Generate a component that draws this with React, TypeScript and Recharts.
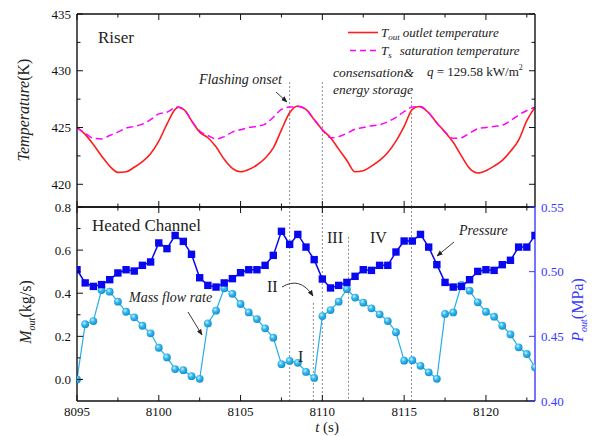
import { ComposedChart, Line, XAxis, YAxis, ReferenceLine } from 'recharts'

// ---- riser outlet temperature (K) ----
const OUT_T = [
  8095, 8095.5, 8096, 8096.5, 8097, 8097.5, 8098, 8098.5, 8099, 8099.5, 8100, 8100.5, 8101, 8101.2,
  8101.6, 8102, 8102.5, 8103, 8103.5, 8104, 8104.5, 8105, 8105.5, 8106, 8106.5, 8107, 8107.5, 8108,
  8108.5, 8109, 8109.5, 8110, 8110.5, 8111, 8111.5, 8112, 8112.5, 8113, 8113.5, 8114, 8114.5, 8115,
  8115.5, 8115.9, 8116.5, 8117, 8117.5, 8118, 8118.5, 8119, 8119.5, 8120, 8120.5, 8121, 8121.5, 8122,
  8122.5, 8123,
]
const OUT_TEMP = [
  425.0, 424.4, 423.5, 422.5, 421.6, 421.05, 421.1, 421.5, 422.0, 422.7, 423.8, 425.3, 426.6, 426.8,
  426.5, 425.6, 424.6, 424.1, 423.3, 422.2, 421.4, 421.1, 421.3, 421.7, 422.3, 423.2, 424.8, 426.3,
  426.9, 426.6, 425.7, 424.8, 424.1, 423.1, 422.1, 421.1, 421.2, 421.6, 422.1, 422.8, 423.8, 425.1,
  426.6, 426.85, 426.3, 425.4, 424.6, 423.7, 422.5, 421.4, 421.0, 421.2, 421.6, 422.1, 422.9, 423.9,
  425.6, 426.8,
]

// ---- saturation temperature (K) ----
const SAT_T = [
  8095, 8095.5, 8096, 8096.5, 8097, 8097.5, 8098, 8098.5, 8099, 8099.5, 8100, 8100.5, 8101.1,
  8101.6, 8102, 8102.5, 8103, 8103.5, 8104, 8104.5, 8105, 8105.5, 8106, 8106.5, 8107, 8107.5, 8108,
  8108.5, 8109, 8109.5, 8110, 8110.5, 8111, 8111.5, 8112, 8112.5, 8113, 8113.5, 8114, 8114.5, 8115,
  8115.5, 8116, 8116.5, 8117, 8117.5, 8118, 8118.5, 8119, 8119.5, 8120, 8120.5, 8121, 8121.5, 8122,
  8122.5, 8123,
]
const SAT_TEMP = [
  425.0, 424.5, 424.05, 424.0, 424.3, 424.6, 424.95, 425.1, 425.3, 425.7, 426.2, 426.35, 426.8,
  426.5, 425.6, 424.7, 424.3, 424.0, 424.2, 424.6, 424.8, 425.0, 425.1, 425.3, 425.9, 426.6, 426.8,
  426.85, 426.6, 425.7, 424.8, 424.1, 424.2, 424.5, 424.85, 425.0, 425.15, 425.25, 425.5, 425.9, 426.4,
  426.8, 426.85, 426.3, 425.4, 424.6, 424.05, 424.1, 424.5, 424.9, 425.0, 425.1, 425.2, 425.6, 426.1,
  426.5, 426.8,
]

// ---- heated channel, sampled every 0.5 s ----
const CH_T = [
  8095, 8095.5, 8096, 8096.5, 8097, 8097.5, 8098, 8098.5, 8099, 8099.5, 8100, 8100.5, 8101, 8101.5,
  8102, 8102.5, 8103, 8103.5, 8104, 8104.5, 8105, 8105.5, 8106, 8106.5, 8107, 8107.5, 8108, 8108.5,
  8109, 8109.5, 8110, 8110.5, 8111, 8111.5, 8112, 8112.5, 8113, 8113.5, 8114, 8114.5, 8115, 8115.5,
  8116, 8116.5, 8117, 8117.5, 8118, 8118.5, 8119, 8119.5, 8120, 8120.5, 8121, 8121.5, 8122, 8122.5,
  8123,
]
// outlet mass flow rate (kg/s)
const MASS = [
  0.0, 0.256, 0.271, 0.415, 0.407, 0.361, 0.314, 0.288, 0.249, 0.214, 0.147, 0.102, 0.048, 0.043,
  0.015, 0.003, 0.26, 0.319, 0.423, 0.397, 0.35, 0.311, 0.28, 0.237, 0.194, 0.071, 0.086, 0.077,
  0.035, 0.007, 0.294, 0.322, 0.361, 0.419, 0.38, 0.356, 0.33, 0.302, 0.271, 0.219, 0.087, 0.089,
  0.063, 0.033, 0.003, 0.304, 0.311, 0.439, 0.412, 0.358, 0.314, 0.291, 0.249, 0.209, 0.149, 0.118,
  0.056,
]
// outlet pressure (MPa)
const PRESSURE = [
  0.5015, 0.4913, 0.4886, 0.49, 0.4938, 0.499, 0.5015, 0.5005, 0.5049, 0.5075, 0.5222, 0.5178, 0.528,
  0.5234, 0.5134, 0.4953, 0.4894, 0.4881, 0.4913, 0.4946, 0.4992, 0.5015, 0.5015, 0.5049, 0.5126,
  0.5312, 0.5211, 0.5288, 0.519, 0.5093, 0.4943, 0.4874, 0.4894, 0.4917, 0.4964, 0.5015, 0.501,
  0.5049, 0.5049, 0.5152, 0.5237, 0.5237, 0.5288, 0.519, 0.5054, 0.4917, 0.4881, 0.4886, 0.4938,
  0.5002, 0.5015, 0.501, 0.5054, 0.5088, 0.519, 0.519, 0.528,
]

// phase boundaries: [time, top of line in riser (K) or null, top of line in channel (kg/s)]
const PHASE_LINES: [number, number | null, number][] = [
  [8108, 429.0, 0.8],
  [8109.45, null, 0.355],
  [8110, 429.0, 0.8],
  [8111.6, null, 0.662],
  [8115.45, 427.7, 0.8],
]

const X_DOMAIN: [number, number] = [8095, 8123]
const X_MAJOR = [8095, 8100, 8105, 8110, 8115, 8120]
const X_MINOR = [8097.5, 8102.5, 8107.5, 8112.5, 8117.5, 8122.5]
const T_MAJOR = [420, 425, 430, 435]
const T_MINOR = [422.5, 427.5, 432.5]
const M_MAJOR = [0, 0.2, 0.4, 0.6, 0.8]
const M_MINOR = [0.1, 0.3, 0.5, 0.7]
const P_MAJOR = [0.4, 0.45, 0.5, 0.55]

const W = 595
const H = 436
const FONT = '"Liberation Serif", "Times New Roman", serif'
const RED = '#ff1c1c'
const MAGENTA = '#ff00ff'
const BLUE = '#0808f0'
const CYAN = '#27aee8'
const AXIS_BLUE = '#3a3aff'

const zip = (xs: number[], ys: number[]) => xs.map((t, i) => ({ t, v: ys[i] }))
const outRows = zip(OUT_T, OUT_TEMP)
const satRows = zip(SAT_T, SAT_TEMP)
const massRows = zip(CH_T, MASS)
const pressRows = zip(CH_T, PRESSURE)

type Side = 'left' | 'right' | 'top' | 'bottom'

// inward ticks drawn by hand; tickSize/tickMargin are 0 so (x, y) sits on the axis line
function makeTick(side: Side, major: number[], fmt: ((v: number) => string) | null, color = '#111') {
  return (props: any) => {
    const { x, y, payload, index } = props
    const v = payload.value
    const isMajor = major.some((m) => Math.abs(m - v) < 1e-6)
    const len = isMajor ? 6 : 3.5
    const ts = { fontFamily: FONT, fontSize: 13, fill: color, stroke: 'none' }
    let line
    let label = null
    if (side === 'left') {
      line = <line x1={x} y1={y} x2={x + len} y2={y} />
      if (fmt && isMajor)
        label = <text x={x - 6} y={y + 4.5} textAnchor="end" fontFamily={FONT} style={ts}>{fmt(v)}</text>
    } else if (side === 'right') {
      line = <line x1={x} y1={y} x2={x - len} y2={y} />
      if (fmt && isMajor)
        label = <text x={x + 6} y={y + 4.5} textAnchor="start" fontFamily={FONT} style={ts}>{fmt(v)}</text>
    } else if (side === 'bottom') {
      line = <line x1={x} y1={y} x2={x} y2={y - len} />
      if (fmt && isMajor)
        label = <text x={x} y={y + 15} textAnchor="middle" fontFamily={FONT} style={ts}>{fmt(v)}</text>
    } else {
      line = <line x1={x} y1={y} x2={x} y2={y + len} />
    }
    return (
      <g key={`${side}-${index}`} stroke={color} strokeWidth={1} fontFamily={FONT}>
        {line}
        {label}
      </g>
    )
  }
}

const SquareDot = (p: any) =>
  p.cx == null || p.cy == null ? null : (
    <rect key={`sq-${p.index}`} x={p.cx - 3.7} y={p.cy - 3.7} width={7.4} height={7.4} fill={BLUE} />
  )

const BallDot = (p: any) =>
  p.cx == null || p.cy == null ? null : (
    <circle key={`ball-${p.index}`} cx={p.cx} cy={p.cy} r={3.9} fill="url(#ball)" />
  )

const axisCommon = {
  type: 'number' as const,
  tickSize: 0,
  tickMargin: 0,
  interval: 0 as const,
  allowDataOverflow: true,
}
const frame = { stroke: '#111', strokeWidth: 1.4 }
const chartStyle = { position: 'absolute' as const, left: 0, top: 0, fontFamily: FONT }

function RiserPanel() {
  return (
    <ComposedChart width={W} height={H} margin={{ top: 13, right: 0, bottom: 228, left: 0 }} style={chartStyle}>
      <XAxis
        {...axisCommon}
        xAxisId="b"
        dataKey="t"
        domain={X_DOMAIN}
        ticks={[...X_MAJOR, ...X_MINOR]}
        height={1}
        axisLine={frame}
        tick={makeTick('bottom', X_MAJOR, null)}
      />
      <XAxis
        {...axisCommon}
        xAxisId="t"
        orientation="top"
        dataKey="t"
        domain={X_DOMAIN}
        ticks={[...X_MAJOR, ...X_MINOR]}
        height={1}
        axisLine={frame}
        tick={makeTick('top', X_MAJOR, null)}
      />
      <YAxis
        {...axisCommon}
        yAxisId="l"
        domain={[418, 435]}
        ticks={[...T_MAJOR, ...T_MINOR]}
        width={77}
        axisLine={frame}
        tick={makeTick('left', T_MAJOR, (v) => String(v))}
      />
      <YAxis
        {...axisCommon}
        yAxisId="r"
        orientation="right"
        domain={[418, 435]}
        ticks={[...T_MAJOR, ...T_MINOR]}
        width={60}
        axisLine={frame}
        tick={makeTick('right', T_MAJOR, null)}
      />
      {PHASE_LINES.filter((p) => p[1] != null).map(([t, top]) => (
        <ReferenceLine
          key={`rl-${t}`}
          xAxisId="b"
          yAxisId="l"
          segment={[
            { x: t, y: top as number },
            { x: t, y: 418 },
          ]}
          stroke="#8a8a8a"
          strokeWidth={1}
          strokeDasharray="2 2"
        />
      ))}
      <Line
        data={outRows}
        xAxisId="b"
        yAxisId="l"
        dataKey="v"
        type="monotone"
        stroke={RED}
        strokeWidth={1.6}
        dot={false}
        activeDot={false}
        isAnimationActive={false}
      />
      <Line
        data={satRows}
        xAxisId="b"
        yAxisId="l"
        dataKey="v"
        type="monotone"
        stroke={MAGENTA}
        strokeWidth={1.5}
        strokeDasharray="7 4"
        dot={false}
        activeDot={false}
        isAnimationActive={false}
      />
    </ComposedChart>
  )
}

function ChannelPanel() {
  return (
    <ComposedChart width={W} height={H} margin={{ top: 206, right: 0, bottom: 0, left: 0 }} style={chartStyle}>
      <defs>
        <radialGradient id="ball" cx="38%" cy="35%" r="65%">
          <stop offset="0%" stopColor="#c8efff" />
          <stop offset="45%" stopColor="#34b8ee" />
          <stop offset="100%" stopColor="#1590d0" />
        </radialGradient>
      </defs>
      <XAxis
        {...axisCommon}
        xAxisId="b"
        dataKey="t"
        domain={X_DOMAIN}
        ticks={[...X_MAJOR, ...X_MINOR]}
        height={35}
        axisLine={frame}
        tick={makeTick('bottom', X_MAJOR, (v) => String(v))}
      />
      <XAxis
        {...axisCommon}
        xAxisId="t"
        orientation="top"
        dataKey="t"
        domain={X_DOMAIN}
        ticks={[...X_MAJOR, ...X_MINOR]}
        height={1}
        axisLine={frame}
        tick={makeTick('top', X_MAJOR, null)}
      />
      <YAxis
        {...axisCommon}
        yAxisId="m"
        domain={[-0.1, 0.8]}
        ticks={[...M_MAJOR, ...M_MINOR]}
        width={77}
        axisLine={frame}
        tick={makeTick('left', M_MAJOR, (v) => v.toFixed(1))}
      />
      <YAxis
        {...axisCommon}
        yAxisId="p"
        orientation="right"
        domain={[0.4, 0.55]}
        ticks={P_MAJOR}
        width={60}
        axisLine={{ stroke: AXIS_BLUE, strokeWidth: 1.4 }}
        tick={makeTick('right', P_MAJOR, (v) => v.toFixed(2), AXIS_BLUE)}
      />
      {PHASE_LINES.map(([t, , top]) => (
        <ReferenceLine
          key={`cl-${t}`}
          xAxisId="b"
          yAxisId="m"
          segment={[
            { x: t, y: top },
            { x: t, y: -0.1 },
          ]}
          stroke="#8a8a8a"
          strokeWidth={1}
          strokeDasharray="2 2"
        />
      ))}
      <Line
        data={massRows}
        xAxisId="b"
        yAxisId="m"
        dataKey="v"
        type="linear"
        stroke={CYAN}
        strokeWidth={1.2}
        dot={BallDot}
        activeDot={false}
        isAnimationActive={false}
      />
      <Line
        data={pressRows}
        xAxisId="b"
        yAxisId="p"
        dataKey="v"
        type="linear"
        stroke={BLUE}
        strokeWidth={1.5}
        dot={SquareDot}
        activeDot={false}
        isAnimationActive={false}
      />
    </ComposedChart>
  )
}

// titles, legend and call-outs
function Notes() {
  const sub = { fontSize: 9, fontStyle: 'italic' as const }
  return (
    <svg
      width={W}
      height={H}
      style={{ position: 'absolute', left: 0, top: 0, pointerEvents: 'none', fontFamily: FONT }}
      fill="#222"
    >
      <defs>
        <marker id="head" viewBox="0 0 10 10" refX="9" refY="5" markerWidth="7" markerHeight="7" orient="auto">
          <path d="M0,1 L10,5 L0,9 z" fill="#222" />
        </marker>
      </defs>

      <text x={98} y={43} fontSize={17}>Riser</text>
      <text x={92} y={231} fontSize={17}>Heated Channel</text>

      {/* legend */}
      <line x1={348} y1={32.5} x2={378} y2={32.5} stroke={RED} strokeWidth={1.6} />
      <text x={381} y={37} fontSize={13} fontStyle="italic">
        T<tspan {...sub} dy={3}>out</tspan>
        <tspan dy={-3} dx={3}>outlet temperature</tspan>
      </text>
      <line x1={350} y1={50.5} x2={378} y2={50.5} stroke={MAGENTA} strokeWidth={1.5} strokeDasharray="6 4" />
      <text x={381} y={55} fontSize={13} fontStyle="italic">
        T<tspan {...sub} dy={3}>s</tspan>
        <tspan dy={-3} dx={8}>saturation temperature</tspan>
      </text>
      <text x={427} y={76} fontSize={13}>
        <tspan fontStyle="italic">q</tspan> = 129.58 kW/m<tspan fontSize={8} dy={-6}>2</tspan>
      </text>
      <text x={333} y={77} fontSize={13.5} fontStyle="italic">consensation&amp;</text>
      <text x={333} y={94} fontSize={13.5} fontStyle="italic">energy storage</text>

      <text x={199} y={84} fontSize={14} fontStyle="italic">Flashing onset</text>
      <line x1={276} y1={92} x2={287} y2={102} stroke="#222" strokeWidth={0.9} markerEnd="url(#head)" />

      <text x={129} y={302} fontSize={14} fontStyle="italic">Mass flow rate</text>
      <line x1={188} y1={312} x2={202} y2={335} stroke="#222" strokeWidth={0.9} markerEnd="url(#head)" />

      <text x={459} y={235} fontSize={14} fontStyle="italic">Pressure</text>
      <line x1={454} y1={242} x2={437} y2={256} stroke="#222" strokeWidth={0.9} markerEnd="url(#head)" />

      <text x={267} y={292} fontSize={16}>II</text>
      <path d="M282,287 Q300,276 313,296" fill="none" stroke="#222" strokeWidth={0.9} markerEnd="url(#head)" />
      <text x={298} y={362} fontSize={16}>I</text>
      <text x={327} y={243} fontSize={16}>III</text>
      <text x={370} y={243} fontSize={16}>IV</text>

      {/* axis titles */}
      <text transform="translate(29,110) rotate(-90)" textAnchor="middle" fontSize={16}>
        <tspan fontStyle="italic">Temperature</tspan>(K)
      </text>
      <text transform="translate(31,312) rotate(-90)" textAnchor="middle" fontSize={16}>
        <tspan fontStyle="italic">M</tspan>
        <tspan fontStyle="italic" fontSize={10} dy={4}>out</tspan>
        <tspan dy={-4}>(kg/s)</tspan>
      </text>
      <text transform="translate(583,310) rotate(-90)" textAnchor="middle" fontSize={16} fill={AXIS_BLUE}>
        <tspan fontStyle="italic">P</tspan>
        <tspan fontStyle="italic" fontSize={10} dy={4}>out</tspan>
        <tspan dy={-4}>(MPa)</tspan>
      </text>
      <text x={327} y={432} textAnchor="middle" fontSize={15}>
        <tspan fontStyle="italic">t</tspan> (s)
      </text>
    </svg>
  )
}

export default function App() {
  return (
    <div style={{ position: 'absolute', left: 0, top: 0, width: W, height: H, background: '#fff' }}>
      <RiserPanel />
      <ChannelPanel />
      <Notes />
    </div>
  )
}
